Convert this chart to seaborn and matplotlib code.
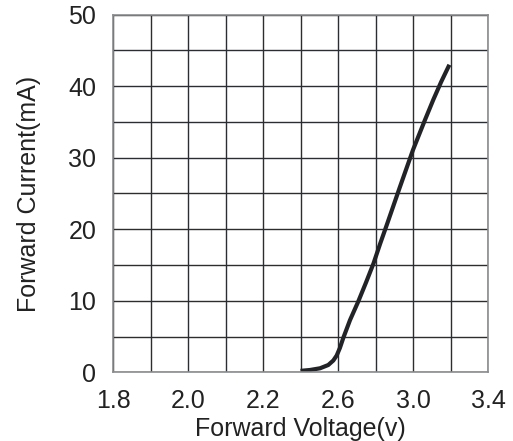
import numpy as np
import pandas as pd
import seaborn as sns
import matplotlib.pyplot as plt

# data
voltage = [2.40, 2.45, 2.504, 2.548, 2.575, 2.593, 2.61, 2.628, 2.664, 2.708, 2.75, 2.789,
           2.825, 2.86, 2.93, 3.00, 3.064, 3.108, 3.15, 3.194]
current = [0.2, 0.32, 0.56, 1.02, 1.65, 2.35, 3.4, 4.8, 7.3, 9.9, 12.6, 15.2,
           18.0, 20.6, 25.9, 31.1, 35.3, 38.1, 40.6, 43.0]

# the datasheet axis is not linear: labels sit on every second grid column
x_labels = [1.8, 2.0, 2.2, 2.6, 3.0, 3.4]
y_labels = [0, 10, 20, 30, 40, 50]

df = pd.DataFrame({"v": voltage, "i": current})

sns.set_style("white")
plt.rcParams['font.family'] = ['Liberation Sans', 'DejaVu Sans']

fig = plt.figure(figsize=(5.13, 4.41), dpi=100)
ax = fig.add_axes([0.2203, 0.1558, 0.731, 0.8109])

cols = np.arange(0, 11, 2)


def fwd(v):
    return np.interp(v, x_labels, cols)


def inv(p):
    return np.interp(p, cols, x_labels)


ax.set_xscale("function", functions=(fwd, inv))

sns.lineplot(data=df, x="v", y="i", ax=ax, color="#222326", linewidth=3.0,
             solid_capstyle="butt", solid_joinstyle="round")

ax.set_xlim(1.8, 3.4)
ax.set_ylim(0, 50)
ax.set_xticks(x_labels)
ax.set_xticklabels([f"{v:.1f}" for v in x_labels])
ax.set_xticks(inv(np.arange(11)), minor=True)
ax.set_yticks(y_labels)
ax.set_yticks(np.arange(0, 51, 5), minor=True)

ax.grid(which="both", color="#2a2d31", linewidth=1.0)
ax.set_axisbelow(True)
for s in ax.spines.values():
    s.set_color("#8a8c8e")
    s.set_linewidth(1.2)

ax.tick_params(which="both", length=0)
ax.tick_params(axis="x", labelsize=18, pad=12, colors="#222")
ax.tick_params(axis="y", labelsize=18, pad=12, colors="#222")

ax.set_xlabel("Forward Voltage(v)", fontsize=18, color="#222", labelpad=3)
ax.set_ylabel("Forward Current(mA)", fontsize=18, color="#222", labelpad=20)

fig.savefig("out.png", dpi=100)
